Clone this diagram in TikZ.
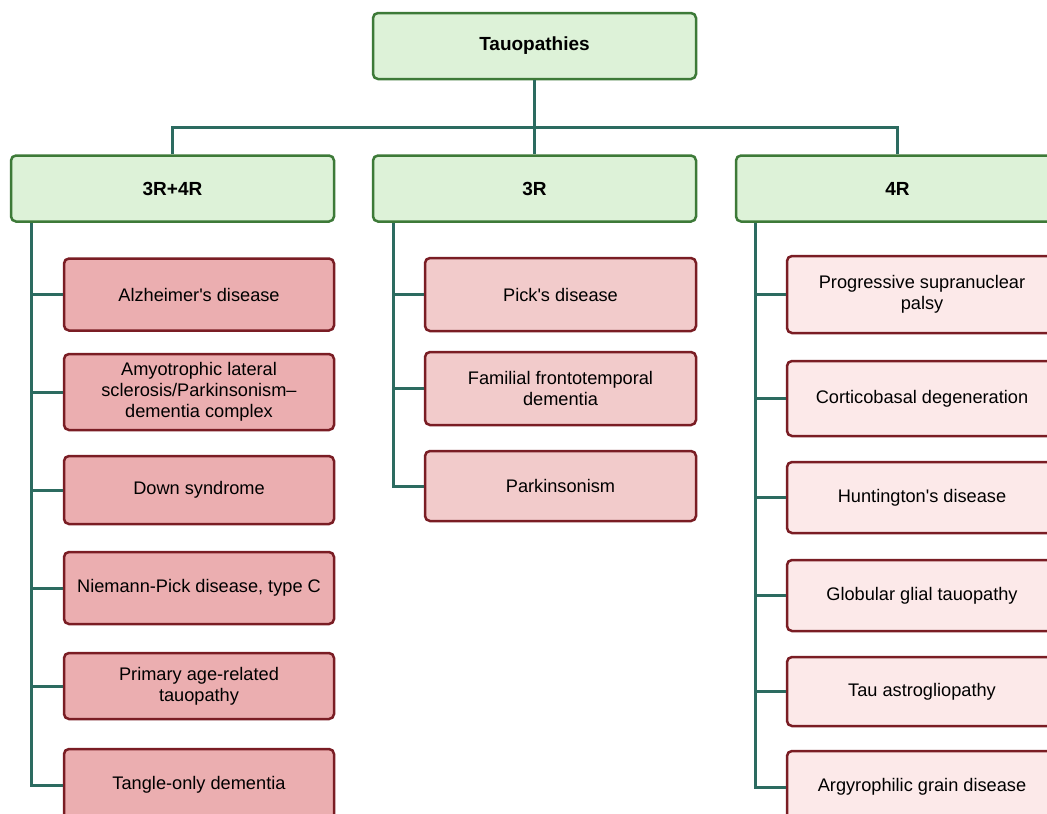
\documentclass[tikz,border=0pt]{standalone}
\usepackage{fontspec}
\setmainfont{Liberation Sans}
\usetikzlibrary{positioning}
\definecolor{groupfillc}{HTML}{DDF2D8}
\definecolor{grouplinec}{HTML}{3D7A38}
\definecolor{linkc}{HTML}{2C6B60}
\definecolor{redlinec}{HTML}{7A1D24}
\definecolor{mixfillc}{HTML}{EBAEB0}
\definecolor{threefillc}{HTML}{F2CBCB}
\definecolor{fourfillc}{HTML}{FCE9E9}
\tikzset{
  groupbox/.style={draw=grouplinec, fill=groupfillc, line width=2.5pt, rounded corners=5pt,
    shape=rectangle, minimum width=323pt, minimum height=66pt,
    font=\fontsize{19}{22}\selectfont\bfseries},
  diseasebox/.style={draw=redlinec, line width=2.5pt, rounded corners=5pt, shape=rectangle,
    minimum width=270pt, minimum height=72pt, align=center,
    font=\fontsize{18.2}{21}\selectfont},
  link/.style={draw=linkc, line width=3pt}
}

\begin{document}
\begin{tikzpicture}[x=1pt,y=-1pt]
\useasboundingbox (0,0) rectangle (1047,814);

\node[groupbox] (tau) at (534.5,46) {Tauopathies};
\node[groupbox] (mixed) at (172.5,188.5) {3R+4R};
\node[groupbox] (three) at (534.5,188.5) {3R};
\node[groupbox] (four) at (897.5,188.5) {4R};

\coordinate (bus) at (534.5,127);
\draw[link] (tau.south) -- (three.north);
\draw[link] (mixed.north) |- (bus) -| (four.north);

% 3R+4R
\node[diseasebox, fill=mixfillc] (a1) at (199,294.5) {Alzheimer\textquotesingle s disease};
\node[diseasebox, fill=mixfillc, minimum height=76pt] (a2) at (199,392)
{Amyotrophic lateral\\sclerosis/Parkinsonism--\\dementia complex};
\node[diseasebox, fill=mixfillc, minimum height=68pt] (a3) at (199,490) {Down syndrome};
\node[diseasebox, fill=mixfillc] (a4) at (199,588) {Niemann-Pick disease, type C};
\node[diseasebox, fill=mixfillc, minimum height=66pt] (a5) at (199,686) {Primary age-related\\tauopathy};
\node[diseasebox, fill=mixfillc] (a6) at (199,785) {Tangle-only dementia};

% 3R
\node[diseasebox, fill=threefillc, minimum width=271pt, minimum height=73pt] (b1) at (560.5,294.5) {Pick\textquotesingle s disease};
\node[diseasebox, fill=threefillc, minimum width=271pt, minimum height=73pt] (b2) at (560.5,388.5) {Familial frontotemporal\\dementia};
\node[diseasebox, fill=threefillc, minimum width=271pt, minimum height=70pt] (b3) at (560.5,486) {Parkinsonism};

% 4R
\node[diseasebox, fill=fourfillc, minimum height=77pt] (c1) at (922,294.5) {Progressive supranuclear\\palsy};
\node[diseasebox, fill=fourfillc, minimum height=75pt] (c2) at (922,398.5) {Corticobasal degeneration};
\node[diseasebox, fill=fourfillc, minimum height=71pt] (c3) at (922,497.5) {Huntington\textquotesingle s disease};
\node[diseasebox, fill=fourfillc, minimum height=71pt] (c4) at (922,595.5) {Globular glial tauopathy};
\node[diseasebox, fill=fourfillc, minimum height=69pt] (c5) at (922,691.5) {Tau astrogliopathy};
\node[diseasebox, fill=fourfillc] (c6) at (922,787) {Argyrophilic grain disease};

\coordinate (sp1) at ([xshift=22pt]mixed.south west);
\coordinate (sp2) at ([xshift=22pt]three.south west);
\coordinate (sp3) at ([xshift=21pt]four.south west);

\draw[link] (sp1) |- (a6.west);
\draw[link] (sp1 |- a1.west) -- (a1.west);
\draw[link] (sp1 |- a2.west) -- (a2.west);
\draw[link] (sp1 |- a3.west) -- (a3.west);
\draw[link] (sp1 |- a4.west) -- (a4.west);
\draw[link] (sp1 |- a5.west) -- (a5.west);

\draw[link] (sp2) |- (b3.west);
\draw[link] (sp2 |- b1.west) -- (b1.west);
\draw[link] (sp2 |- b2.west) -- (b2.west);

\draw[link] (sp3) |- (c6.west);
\draw[link] (sp3 |- c1.west) -- (c1.west);
\draw[link] (sp3 |- c2.west) -- (c2.west);
\draw[link] (sp3 |- c3.west) -- (c3.west);
\draw[link] (sp3 |- c4.west) -- (c4.west);
\draw[link] (sp3 |- c5.west) -- (c5.west);

\end{tikzpicture}
\end{document}
